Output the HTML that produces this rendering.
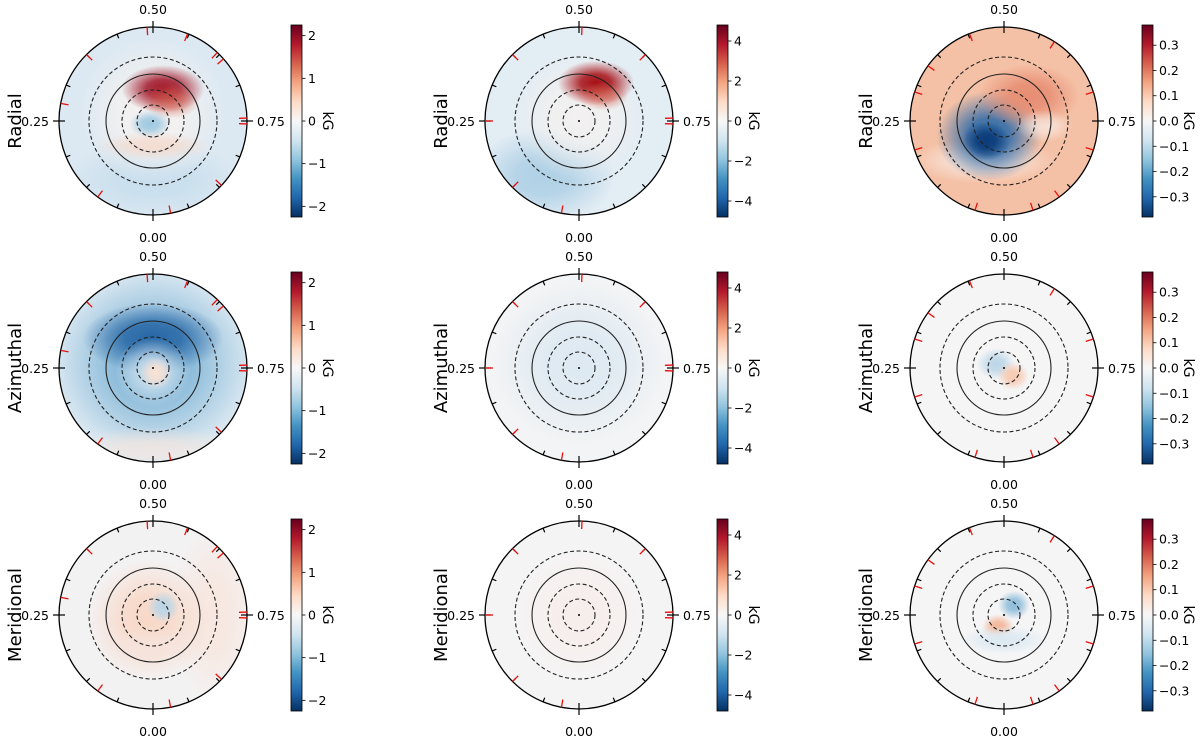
<!DOCTYPE html>
<html><head><meta charset="utf-8">
<style>
html,body{margin:0;padding:0;background:#fff;}
svg{display:block;font-family:"DejaVu Sans","Liberation Sans",sans-serif;}
</style></head>
<body>
<svg id="fig" width="1200" height="736" viewBox="0 0 1200 736">
<defs id="defs">
<linearGradient id="rdbu" x1="0" y1="1" x2="0" y2="0">
<stop offset="0" stop-color="#053061"/><stop offset="0.1" stop-color="#2166ac"/>
<stop offset="0.2" stop-color="#4393c3"/><stop offset="0.3" stop-color="#92c5de"/>
<stop offset="0.4" stop-color="#d1e5f0"/><stop offset="0.5" stop-color="#f7f7f7"/>
<stop offset="0.6" stop-color="#fddbc7"/><stop offset="0.7" stop-color="#f4a582"/>
<stop offset="0.8" stop-color="#d6604d"/><stop offset="0.9" stop-color="#b2182b"/>
<stop offset="1" stop-color="#67001f"/></linearGradient>
</defs>
</svg>
<script>
const colCx=[153,579,1004];
const rowCy=[121,368,615];
const rowNames=['Radial','Azimuthal','Meridional'];
const cbTicks1=[-2,-1,0,1,2];
const cbTicks2=[-4,-2,0,2,4];
const cbTicks3=[-0.3,-0.2,-0.1,0.0,0.1,0.2,0.3];
const cbRange=[2.25,4.8,0.38];
const redPhases1=[0.49,0.56,0.62,0.635,0.745,0.755,0.87,0.97,0.1,0.28,0.375];
const redPhases2=[0.505,0.375,0.625,0.745,0.755,0.25,0.125,0.03];
const redPhases3=[0.44,0.59,0.7,0.8,0.9,0.95,0.05,0.2,0.3,0.35];
const ringRadii=[16,31,47,64];
const ringDash=[true,true,false,true];
// blobs: [panelIndex, dx, dy, rx, ry, color, opacity]
const blobs=[
[0,0,0,95,95,'#dde9f2',1],[0,0,60,60,25,'#c3dcec',0.8],[0,0,-10,45,45,'#f8f3f0',0.9],[0,10,-32,26,15,'#a01628',1],[0,18,-20,18,11,'#d6604d',0.6],[0,-3,3,13,9,'#9ec9e1',1],[0,0,25,36,9,'#f6d0bd',0.6],
[1,0,0,95,95,'#e3edf4',1],[1,-35,55,45,30,'#a9cde4',0.9],[1,0,-5,40,40,'#f4f1ef',0.9],[1,17,-38,24,14,'#a50f15',1],[1,24,-25,16,9,'#d6604d',0.6],
[2,0,0,95,95,'#f5c1a6',1],[2,-20,40,45,14,'#f7f4f2',0.7],[2,-15,15,33,28,'#2c6aa9',1],[2,-18,20,15,12,'#0b3b78',1],[2,25,-25,32,20,'#e5876d',0.9],[2,40,5,18,10,'#f7f4f2',0.6],
[3,0,0,95,95,'#dae8f1',1],[3,0,-5,62,58,'#7fb4d6',1],[3,0,-30,44,22,'#2767a6',1],[3,0,5,24,22,'#c7ddec',1],[3,3,5,10,10,'#f8e0d3',1],[3,0,80,55,13,'#f7e6de',0.7],
[4,0,0,95,95,'#f3f4f5',1],[4,0,-5,55,52,'#dde9f1',1],
[5,0,0,95,95,'#f5f5f6',1],[5,-8,-4,12,10,'#bcd6e8',1],[5,9,8,10,9,'#f7c9b1',1],
[6,0,0,95,95,'#f3f2f3',1],[6,60,0,28,55,'#f9e2d7',0.7],[6,-5,5,38,38,'#f8d8c7',1],[6,10,-8,10,10,'#b9d5e8',1],[6,0,30,38,11,'#f5e6e0',0.6],
[7,0,0,95,95,'#f5f4f5',1],[7,0,0,40,40,'#f7ece8',0.8],
[8,0,0,95,95,'#f5f5f6',1],[8,10,-10,10,9,'#8dbcda',1],[8,-6,12,10,8,'#f4b596',1],[8,0,25,28,9,'#dce9f2',1]
];
const NS='http://www.w3.org/2000/svg';
const svg=document.getElementById('fig');
const defs=document.getElementById('defs');
function mk(tag,attrs,parent){const e=document.createElementNS(NS,tag);for(const k in attrs)e.setAttribute(k,attrs[k]);(parent||svg).appendChild(e);return e;}
const R=94;
const redLists=[redPhases1,redPhases2,redPhases3];
const tickLists=[cbTicks1,cbTicks2,cbTicks3];
let gid=0;
for(let r=0;r<3;r++){for(let c=0;c<3;c++){
 const p=r*3+c,cx=colCx[c],cy=rowCy[r];
 const g=mk('g',{});
 
 
 const cp=mk('clipPath',{id:'cp'+p},defs);mk('circle',{cx:cx,cy:cy,r:R},cp);
 const fg=mk('g',{'clip-path':'url(#cp'+p+')'},g);
 blobs.filter(b=>b[0]===p).forEach((b,i)=>{
  let fill=b[5],rx=b[3],ry=b[4];
  if(i>0){
   const id='bg'+(gid++);
   const rg=mk('radialGradient',{id:id},defs);
   mk('stop',{offset:0,'stop-color':b[5],'stop-opacity':b[6]},rg);
   mk('stop',{offset:0.4,'stop-color':b[5],'stop-opacity':b[6]*0.85},rg);
   mk('stop',{offset:1,'stop-color':b[5],'stop-opacity':0},rg);
   fill='url(#'+id+')';rx=rx*1.6;ry=ry*1.6;
  }
  const e=mk('ellipse',{cx:cx+b[1],cy:cy+b[2],rx:rx,ry:ry,fill:fill},fg);
  
  
 });
 ringRadii.forEach((rr,i)=>{const e=mk('circle',{cx:cx,cy:cy,r:rr,fill:'none',stroke:'#222','stroke-width':1.1,'stroke-dasharray':ringDash[i]?'4 2.5':'none'},g);
  });
 mk('circle',{cx:cx,cy:cy,r:1,fill:'#000'},g);
 const oc=mk('circle',{cx:cx,cy:cy,r:R,fill:'none',stroke:'#000','stroke-width':1.3},g);
 
 for(let k=0;k<16;k++){const ph=k/16,s=Math.sin(2*Math.PI*ph),co=Math.cos(2*Math.PI*ph);
  const maj=k%4===0;const r1=maj?R+6:R,r2=maj?R-6:R-4.5;
  mk('line',{x1:cx-r1*s,y1:cy+r1*co,x2:cx-r2*s,y2:cy+r2*co,stroke:'#000','stroke-width':1.2},g);}
 redLists[c].forEach(ph=>{const s=Math.sin(2*Math.PI*ph),co=Math.cos(2*Math.PI*ph);
  const e=mk('line',{x1:cx-R*s,y1:cy+R*co,x2:cx-(R-8)*s,y2:cy+(R-8)*co,stroke:'#e8100c','stroke-width':1.3},g);
  });
 [['0.50',cx,cy-107,'middle'],['0.00',cx,cy+121,'middle'],['0.25',cx-104,cy+5,'end'],['0.75',cx+104,cy+5,'start']].forEach(t=>{
  const e=mk('text',{x:t[1],y:t[2],'text-anchor':t[3],'font-size':12.5,fill:'#000'},g);e.textContent=t[0];
  });
 const rl=mk('text',{x:0,y:0,transform:'translate('+(cx-132)+','+cy+') rotate(-90)','text-anchor':'middle','font-size':18,fill:'#000'},g);
 rl.textContent=rowNames[r];
 const bx=[291,717,1142][c],by0=cy-96,bh=192,bw=11,rng=cbRange[c];
 const cb=mk('g',{},g);
 mk('rect',{x:bx,y:by0,width:bw,height:bh,fill:'url(#rdbu)',stroke:'#000','stroke-width':0.8},cb);
 tickLists[c].forEach(v=>{const y=by0+bh/2-v/rng*bh/2;
  mk('line',{x1:bx+bw,y1:y,x2:bx+bw+3.5,y2:y,stroke:'#000','stroke-width':0.8},cb);
  const t=mk('text',{x:bx+bw+6,y:y+4.5,'font-size':12.5,fill:'#000'},cb);
  t.textContent=(v<0?'\u2212':'')+(c===2?Math.abs(v).toFixed(1):Math.abs(v));
  });
 const kl=mk('text',{x:0,y:0,transform:'translate('+(bx+bw+(c===2?31:21))+','+cy+') rotate(90)','text-anchor':'middle','font-size':14,fill:'#000'},cb);
 kl.textContent='kG';
}}
</script>
</body></html>
